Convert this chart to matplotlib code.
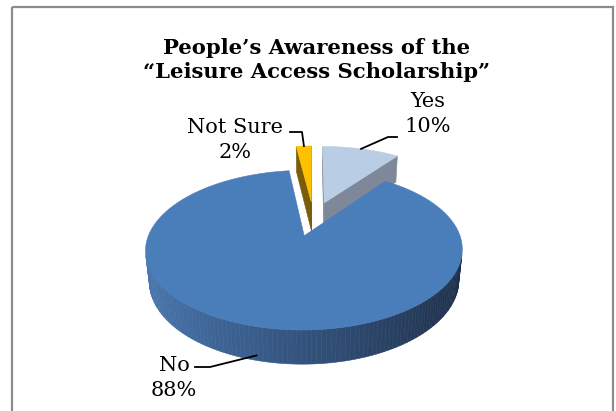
import numpy as np
import matplotlib.pyplot as plt
from matplotlib.patches import Polygon, Rectangle
from matplotlib.colors import to_rgb

labels = ["Yes", "No", "Not Sure"]
shares = [10, 88, 2]
top_colors = ["#B9CDE5", "#4A7EBB", "#FFC000"]
side_colors = ["#7E8898", "#2E4D78", "#7A5C0A"]
wall_light = "#4A78B2"
wall_dark = "#1D2E47"

W, H = 616, 411
fig = plt.figure(figsize=(W / 100, H / 100), dpi=100)
ax = fig.add_axes([0, 0, 1, 1])
ax.set_xlim(0, W)
ax.set_ylim(H, 0)
ax.axis("off")

# simple perspective camera looking down on the pie
elev = np.radians(28.4)
ce, se = np.cos(elev), np.sin(elev)
dist = 5.07
scale = 758
ox, oy = 313.5, 218.5
thick = 0.228
explode = 0.24
cam = np.array([0.0, -dist * ce, dist * se])


def project(p):
    x, y, z = p
    dep = dist + y * ce - z * se
    return ox + scale * x / dep, oy - scale * (y * se + z * ce) / dep


def facing(pt, normal):
    return np.dot(cam - np.asarray(pt), normal) > 0


def rim(tip, th, z):
    return np.array([tip[0] + np.sin(th), tip[1] + np.cos(th), z])


def mix(c1, c2, t):
    a, b = np.array(to_rgb(c1)), np.array(to_rgb(c2))
    return tuple(a + (b - a) * t)


def poly(pts, color, z):
    ax.add_patch(Polygon([project(p) for p in pts], closed=True, facecolor=color,
                         edgecolor=color, linewidth=0.4, zorder=z))


# slice angles, clockwise from the back of the pie
total = sum(shares)
starts = np.cumsum([0] + shares[:-1]) / total * 2 * np.pi
ends = np.cumsum(shares) / total * 2 * np.pi
slices = []
for i in range(len(shares)):
    mid = (starts[i] + ends[i]) / 2
    tip = np.array([explode * np.sin(mid), explode * np.cos(mid), 0.0])
    slices.append((i, starts[i], ends[i], mid, tip))

# farther slices first
slices.sort(key=lambda s: -s[4][1])
zo = 1
anchors = {}
for i, t0, t1, mid, tip in slices:
    bot = tip - np.array([0, 0, thick])
    # radial faces
    for th, sign in ((t0, -1), (t1, 1)):
        normal = sign * np.array([np.cos(th), -np.sin(th), 0])
        pts = [tip, rim(tip, th, 0), rim(tip, th, -thick), bot]
        if facing(np.mean(pts, axis=0), normal):
            poly(pts, side_colors[i], zo)
    # outer wall in thin strips
    n = max(4, int(np.degrees(t1 - t0) / 1.5))
    th = np.linspace(t0, t1, n + 1)
    for a, b in zip(th[:-1], th[1:]):
        m = (a + b) / 2
        normal = np.array([np.sin(m), np.cos(m), 0])
        pts = [rim(tip, a, 0), rim(tip, b, 0), rim(tip, b, -thick), rim(tip, a, -thick)]
        if facing(np.mean(pts, axis=0), normal):
            if i == 1:
                col = mix(wall_light, wall_dark, (1 + np.sin(m)) / 2)
            else:
                col = side_colors[i]
            poly(pts, col, zo)
    # top face
    arc = [rim(tip, a, 0) for a in np.linspace(t0, t1, max(4, n))]
    poly([tip] + arc, top_colors[i], zo + 1)
    zo += 2
    anchors[i] = (tip, mid)

# leader lines
tip, mid = anchors[0]
ax.plot(*zip(project(rim(tip, mid, 0)), (388, 137), (397, 137)), color="black", lw=1.3, zorder=20)
tip, mid = anchors[2]
ax.plot(*zip((290, 132), (302, 132), project(rim(tip, mid, 0))), color="black", lw=1.3, zorder=20)
tip, mid = anchors[1]
ax.plot(*zip((195, 367), (210, 367), project(rim(tip, mid, -0.85 * thick))), color="black", lw=1.3, zorder=20)

# data labels
label_font = dict(family="DejaVu Serif", fontsize=15, ha="center", va="center", zorder=21)
label_pos = {0: (428, 114), 1: (174, 378), 2: (235, 140)}
for i, (x, y) in label_pos.items():
    ax.text(x, y, f"{labels[i]}\n{shares[i]}%", linespacing=1.35, **label_font)

ax.text(317, 60, "People’s Awareness of the\n“Leisure Access Scholarship”",
        family="DejaVu Serif", fontsize=15.2, fontweight="bold", ha="center", va="center",
        linespacing=1.3, zorder=21)

# chart frame
ax.add_patch(Rectangle((12, 7), 601, 420, fill=False, edgecolor="#8C8C8C", lw=1.6, zorder=30))

fig.savefig("out.png", dpi=100)
